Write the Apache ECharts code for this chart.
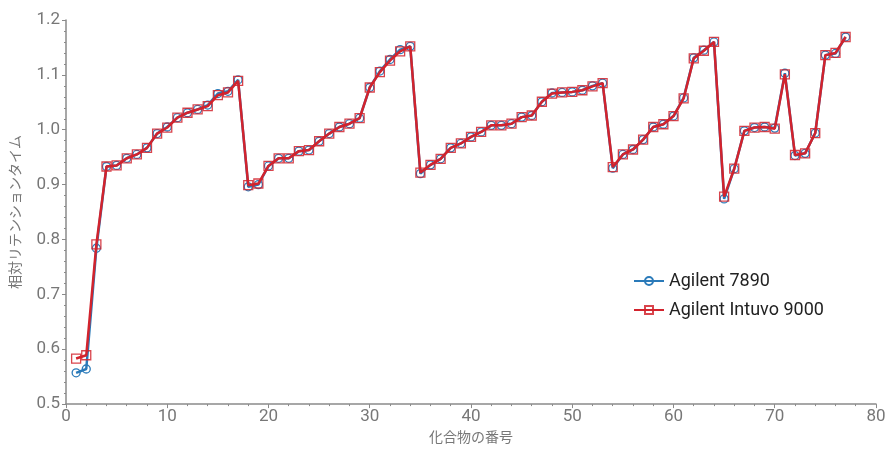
<!DOCTYPE html>
<html>
<head>
<meta charset="utf-8">
<script src="https://cdn.jsdelivr.net/npm/echarts@6/dist/echarts.min.js"></script>
<style>html,body{margin:0;padding:0;background:#fff}#c{width:889px;height:449px}</style>
</head>
<body>
<div id="c"></div>
<script>
const compounds = Array.from({length: 77}, (_, i) => i + 1);
const agilent7890 = [
  0.557, 0.564, 0.784, 0.933, 0.935, 0.948, 0.955, 0.967, 0.993, 1.005,
  1.022, 1.031, 1.037, 1.045, 1.066, 1.070, 1.091, 0.896, 0.900, 0.934,
  0.948, 0.948, 0.961, 0.963, 0.979, 0.993, 1.005, 1.011, 1.021, 1.077,
  1.107, 1.128, 1.146, 1.152, 0.920, 0.936, 0.947, 0.967, 0.975, 0.987,
  0.996, 1.008, 1.008, 1.011, 1.023, 1.026, 1.051, 1.067, 1.068, 1.069,
  1.072, 1.080, 1.085, 0.930, 0.955, 0.964, 0.982, 1.005, 1.010, 1.025,
  1.058, 1.131, 1.145, 1.160, 0.874, 0.929, 0.998, 1.004, 1.005, 1.003,
  1.103, 0.953, 0.957, 0.994, 1.136, 1.139, 1.169
];
const intuvo9000 = [
  0.583, 0.589, 0.791, 0.933, 0.935, 0.948, 0.955, 0.967, 0.993, 1.004,
  1.022, 1.031, 1.037, 1.043, 1.063, 1.068, 1.089, 0.899, 0.902, 0.934,
  0.948, 0.948, 0.961, 0.963, 0.979, 0.993, 1.005, 1.011, 1.021, 1.077,
  1.105, 1.126, 1.143, 1.152, 0.922, 0.936, 0.947, 0.967, 0.975, 0.987,
  0.996, 1.008, 1.008, 1.011, 1.023, 1.026, 1.051, 1.066, 1.068, 1.069,
  1.072, 1.079, 1.085, 0.932, 0.955, 0.964, 0.982, 1.005, 1.010, 1.025,
  1.057, 1.130, 1.144, 1.160, 0.878, 0.929, 0.998, 1.004, 1.005, 1.002,
  1.101, 0.954, 0.957, 0.994, 1.136, 1.140, 1.169
];
const xTicks = [0, 10, 20, 30, 40, 50, 60, 70, 80];
const yTicks = [0.5, 0.6, 0.7, 0.8, 0.9, 1.0, 1.1, 1.2];

const blue = '#2a7ab9';
const red = '#d2232d';
const axisColor = '#8a8a8a';
const labelColor = '#777777';

const chart = echarts.init(document.getElementById('c'), null, {renderer: 'canvas'});
chart.setOption({
  animation: false,
  backgroundColor: '#ffffff',
  grid: {left: 64, right: 13, top: 20, bottom: 43, containLabel: false},
  legend: {
    orient: 'vertical',
    left: 628,
    top: 267,
    itemWidth: 30,
    itemHeight: 10,
    itemGap: 11,
    textStyle: {fontFamily: 'Roboto', fontSize: 18, color: '#222'},
    data: ['Agilent 7890', 'Agilent Intuvo 9000']
  },
  xAxis: {
    type: 'value',
    min: xTicks[0],
    max: xTicks[xTicks.length - 1],
    interval: 10,
    name: '化合物の番号',
    nameLocation: 'middle',
    nameGap: 25,
    nameTextStyle: {fontFamily: 'Noto Sans CJK JP', fontSize: 14, color: labelColor},
    axisLine: {show: true, onZero: false, lineStyle: {color: axisColor, width: 1.5}},
    axisTick: {show: true, length: 4, lineStyle: {color: axisColor}},
    minorTick: {show: true, splitNumber: 5, length: 2, lineStyle: {color: axisColor}},
    axisLabel: {fontFamily: 'Roboto', fontSize: 17, color: labelColor, margin: 4},
    splitLine: {show: false}
  },
  yAxis: {
    type: 'value',
    min: yTicks[0],
    max: yTicks[yTicks.length - 1],
    interval: 0.1,
    name: '相対リテンションタイム',
    nameLocation: 'middle',
    nameGap: 44,
    nameTextStyle: {fontFamily: 'Noto Sans CJK JP', fontSize: 14, color: labelColor},
    axisLine: {show: true, onZero: false, lineStyle: {color: axisColor, width: 1.5}},
    axisTick: {show: true, length: 4, lineStyle: {color: axisColor}},
    minorTick: {show: true, splitNumber: 5, length: 2, lineStyle: {color: axisColor}},
    axisLabel: {fontFamily: 'Roboto', fontSize: 17, color: labelColor, margin: 6,
      formatter: v => v.toFixed(1)},
    splitLine: {show: false}
  },
  series: [
    {
      name: 'Agilent 7890',
      type: 'line',
      data: compounds.map((c, i) => [c, agilent7890[i]]),
      symbol: 'circle',
      symbolSize: 8,
      lineStyle: {color: blue, width: 2.5},
      itemStyle: {color: 'rgba(255,255,255,0)', borderColor: blue, borderWidth: 1.3},
      z: 2
    },
    {
      name: 'Agilent Intuvo 9000',
      type: 'line',
      data: compounds.map((c, i) => [c, intuvo9000[i]]),
      symbol: 'rect',
      symbolSize: 9,
      lineStyle: {color: red, width: 2.5},
      itemStyle: {color: 'rgba(255,255,255,0)', borderColor: 'rgba(210,35,45,0.85)', borderWidth: 1.3},
      z: 3
    }
  ]
});
</script>
</body>
</html>
